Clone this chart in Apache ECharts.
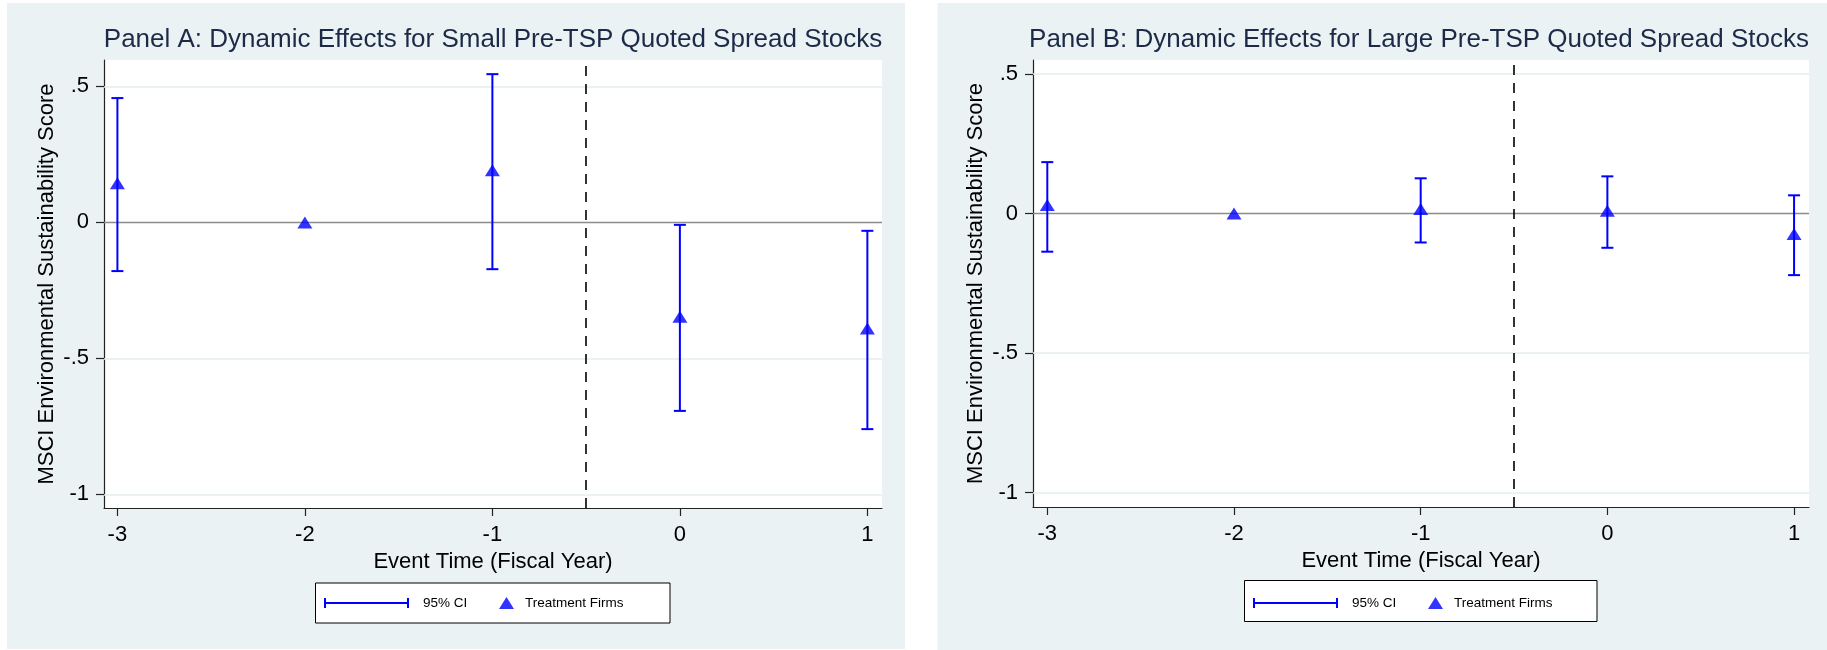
<!DOCTYPE html>
<html>
<head>
<meta charset="utf-8">
<script src="https://cdn.jsdelivr.net/npm/echarts@6/dist/echarts.min.js"></script>
<style>
html,body{margin:0;padding:0;background:#ffffff;}
#chart{width:1827px;height:650px;}
</style>
</head>
<body>
<div id="chart"></div>
<script>
// ---------------- data ----------------
const eventTime = [-3, -2, -1, 0, 1];
const xTicks = [-3, -2, -1, 0, 1];
const yTicks = [-1, -0.5, 0, 0.5];
const gridLineValues = [-1, -0.5, 0.5];
const zeroLineValue = 0;
const treatmentLineValue = -0.5;

const panelATitle = 'Panel A: Dynamic Effects for Small Pre-TSP Quoted Spread Stocks';
const panelBTitle = 'Panel B: Dynamic Effects for Large Pre-TSP Quoted Spread Stocks';
const yAxisTitle = 'MSCI Environmental Sustainability Score';
const xAxisTitle = 'Event Time (Fiscal Year)';
const ciName = '95% CI';
const pointName = 'Treatment Firms';

const panelACoef = [0.144, 0, 0.192, -0.347, -0.390];
const panelALow  = [-0.179, null, -0.172, -0.693, -0.760];
const panelAHigh = [0.457, null, 0.545, -0.009, -0.031];

const panelBCoef = [0.030, 0, 0.016, 0.010, -0.074];
const panelBLow  = [-0.137, null, -0.104, -0.123, -0.221];
const panelBHigh = [0.184, null, 0.126, 0.133, 0.065];

// ---------------- styling ----------------
const FONT = '"Liberation Sans", Arial, Helvetica, sans-serif';
const BLUE = '#0000ff';
const PANEL_BG = '#eaf2f3';
const GRIDLINE = '#e4eef0';
const TITLE_COLOR = '#1c2a48';
const CI_ICON = 'path://M0,0h2v4h81v-4h2v10h-2v-4h-81v4h-2z';

function fmtY(v) {
  if (v === 0) return '0';
  return String(v).replace('0.', '.');
}

function ciRender(params, api) {
  const x = api.value(0), lo = api.value(1), hi = api.value(2);
  const p1 = api.coord([x, lo]);
  const p2 = api.coord([x, hi]);
  const half = 6;
  const style = { stroke: BLUE, lineWidth: 2, fill: null };
  return {
    type: 'group',
    children: [
      { type: 'line', shape: { x1: p1[0], y1: p1[1], x2: p2[0], y2: p2[1] }, style: style },
      { type: 'line', shape: { x1: p1[0] - half, y1: p1[1], x2: p1[0] + half, y2: p1[1] }, style: style },
      { type: 'line', shape: { x1: p2[0] - half, y1: p2[1], x2: p2[0] + half, y2: p2[1] }, style: style }
    ]
  };
}

function ciData(lo, hi) {
  const out = [];
  eventTime.forEach((x, k) => {
    if (lo[k] !== null && hi[k] !== null) out.push([x, lo[k], hi[k]]);
  });
  return out;
}

function pointData(coef) {
  return eventTime.map((x, k) => [x, coef[k]]);
}

function makeXAxis(idx, min, max) {
  return {
    type: 'value', gridIndex: idx, min: min, max: max,
    name: xAxisTitle, nameLocation: 'middle', nameGap: 30,
    nameTextStyle: { fontFamily: FONT, fontSize: 22, color: '#000' },
    axisLine: { show: true, onZero: false, lineStyle: { color: '#222', width: 1.2 } },
    axisTick: { show: true, inside: false, length: 8, customValues: xTicks, lineStyle: { color: '#222', width: 1.2 } },
    axisLabel: { show: true, margin: 16, customValues: xTicks, formatter: v => String(v),
      fontFamily: FONT, fontSize: 22, color: '#000' },
    splitLine: { show: false }
  };
}

function makeYAxis(idx, min, max) {
  return {
    type: 'value', gridIndex: idx, min: min, max: max,
    name: yAxisTitle, nameLocation: 'middle', nameGap: 46,
    nameTextStyle: { fontFamily: FONT, fontSize: 22, color: '#000' },
    axisLine: { show: true, onZero: false, lineStyle: { color: '#222', width: 1.2 } },
    axisTick: { show: true, inside: false, length: 8, customValues: yTicks, lineStyle: { color: '#222', width: 1.2 } },
    axisLabel: { show: true, margin: 15, customValues: yTicks, formatter: fmtY,
      fontFamily: FONT, fontSize: 22, color: '#000' },
    splitLine: { show: false }
  };
}

function makeSeries(idx, coef, lo, hi) {
  const gridLines = gridLineValues.map(v => ({ yAxis: v, lineStyle: { color: GRIDLINE, width: 1.6, type: 'solid' } }));
  gridLines.push({ yAxis: zeroLineValue, lineStyle: { color: '#8c8c8c', width: 1.4, type: 'solid' } });
  return [
    {
      name: ciName, type: 'custom', xAxisIndex: idx, yAxisIndex: idx,
      renderItem: ciRender, data: ciData(lo, hi),
      encode: { x: 0, y: [1, 2] },
      itemStyle: { color: BLUE }, z: 3, silent: true, animation: false,
      markLine: {
        silent: true, z: 1, symbol: 'none', animation: false,
        label: { show: false }, data: gridLines
      }
    },
    {
      name: pointName, type: 'scatter', xAxisIndex: idx, yAxisIndex: idx,
      data: pointData(coef), symbol: 'triangle', symbolSize: [15, 12],
      itemStyle: { color: BLUE }, z: 4, silent: true, animation: false,
      markLine: {
        silent: true, z: 5, symbol: 'none', animation: false,
        label: { show: false },
        data: [{ xAxis: treatmentLineValue, lineStyle: { color: '#000', width: 1.6, type: [10, 8] } }]
      }
    }
  ];
}

function makeLegends(offsetX) {
  const base = {
    orient: 'horizontal', top: 596, padding: 0, selectedMode: false,
    textStyle: { fontFamily: FONT, fontSize: 13.5, color: '#000' }
  };
  return [
    Object.assign({}, base, {
      left: 324 + offsetX, itemWidth: 85, itemHeight: 10,
      data: [{ name: ciName, icon: CI_ICON, itemStyle: { color: BLUE } }],
      textStyle: Object.assign({}, base.textStyle, { padding: [0, 0, 0, 9] })
    }),
    Object.assign({}, base, {
      left: 499 + offsetX, itemWidth: 15, itemHeight: 12,
      data: [{ name: pointName, icon: 'triangle', itemStyle: { color: BLUE } }],
      textStyle: Object.assign({}, base.textStyle, { padding: [0, 0, 0, 6] })
    })
  ];
}

const chart = echarts.init(document.getElementById('chart'), null, { renderer: 'canvas' });

const option = {
  backgroundColor: '#ffffff',
  animation: false,
  graphic: [
    { type: 'rect', z: -100, shape: { x: 7, y: 3, width: 898, height: 646 }, style: { fill: PANEL_BG } },
    { type: 'rect', z: -100, shape: { x: 937.5, y: 3, width: 889.5, height: 647 }, style: { fill: PANEL_BG } },
    { type: 'rect', z: -50, shape: { x: 315.5, y: 583, width: 354.5, height: 40 }, style: { fill: '#ffffff', stroke: '#000', lineWidth: 1 } },
    { type: 'rect', z: -50, shape: { x: 1244.5, y: 580.5, width: 352.5, height: 41 }, style: { fill: '#ffffff', stroke: '#000', lineWidth: 1 } }
  ],
  title: [
    { text: panelATitle, left: 493, top: 27, textAlign: 'center', padding: 0,
      textStyle: { fontFamily: FONT, fontSize: 26, fontWeight: 'normal', color: TITLE_COLOR, lineHeight: 26 } },
    { text: panelBTitle, left: 1419, top: 27, textAlign: 'center', padding: 0,
      textStyle: { fontFamily: FONT, fontSize: 26, fontWeight: 'normal', color: TITLE_COLOR, lineHeight: 26 } }
  ],
  grid: [
    { left: 104, top: 60, width: 778, height: 448, show: true, backgroundColor: '#ffffff', borderWidth: 0 },
    { left: 1033, top: 60, width: 776, height: 447, show: true, backgroundColor: '#ffffff', borderWidth: 0 }
  ],
  xAxis: [makeXAxis(0, -3.0715, 1.078), makeXAxis(1, -3.0766, 1.080)],
  yAxis: [makeYAxis(0, -1.05, 0.597), makeYAxis(1, -1.052, 0.55)],
  legend: makeLegends(0).concat(makeLegends(929)),
  series: makeSeries(0, panelACoef, panelALow, panelAHigh)
    .concat(makeSeries(1, panelBCoef, panelBLow, panelBHigh))
};

chart.setOption(option);
</script>
</body>
</html>
